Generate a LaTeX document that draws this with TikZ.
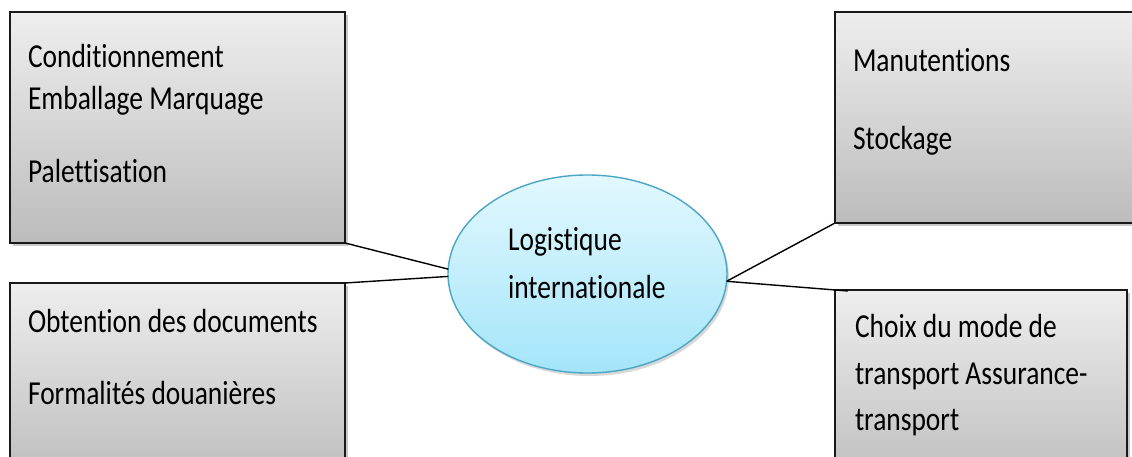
\documentclass[tikz,border=0pt]{standalone}
\usepackage{fontspec}
\setmainfont[FakeStretch=0.82,Ligatures={NoCommon,NoContextual}]{Carlito}
\usetikzlibrary{shapes.geometric,shadows}
\definecolor{boxtop}{RGB}{238,238,238}
\definecolor{boxbot}{RGB}{188,188,188}
\definecolor{elltop}{RGB}{226,248,254}
\definecolor{ellbot}{RGB}{164,229,249}
\definecolor{ellline}{RGB}{75,165,195}
\definecolor{edge}{RGB}{25,25,25}
\newcommand\txtfont{\fontsize{33.5pt}{40pt}\selectfont}
\tikzset{
  greybox/.style={rectangle, draw=edge, line width=1.4pt, inner sep=0pt, outer sep=0pt,
    anchor=north west, top color=boxtop, bottom color=boxbot,
    drop shadow={shadow xshift=2.5pt, shadow yshift=-3pt, opacity=0.35, fill=black!60}},
  centreell/.style={ellipse, draw=ellline, line width=1.4pt, inner sep=0pt, outer sep=0pt,
    minimum width=279pt, minimum height=198pt, top color=elltop, bottom color=ellbot,
    drop shadow={shadow xshift=2pt, shadow yshift=-3pt, opacity=0.3, fill=black!50}},
  txtlabel/.style={anchor=base west, inner sep=0pt, outer sep=0pt, font=\txtfont, text=black},
  link/.style={draw=black, line width=1.4pt}
}
\begin{document}
\begin{tikzpicture}[x=1pt,y=-1pt]
\useasboundingbox (0,0) rectangle (1132,457);
\clip (0,0) rectangle (1132,457);
\fill[white] (0,0) rectangle (1132,457);
% boxes
\node[greybox, minimum width=335pt, minimum height=231pt] (tl) at (10,12) {};
\node[greybox, minimum width=335pt, minimum height=200pt] (bl) at (10,283) {};
\node[greybox, minimum width=320pt, minimum height=211pt] (tr) at (835,12) {};
\node[greybox, minimum width=292pt, minimum height=200pt] (br) at (835,290) {};
% centre ellipse
\node[centreell] (ell) at (587.5,274) {};
% connectors
\coordinate (brc) at (848,291);
\draw[link] (tl.south east) -- (ell.178.4);
\draw[link] (bl.north east) -- (ell.181.2);
\draw[link] (ell.357.5) -- (tr.south west);
\draw[link] (ell.357.5) -- (brc);
% texts
\node[txtlabel] (t1) at (28,68) {Conditionnement};
\node[txtlabel] (t2) at (28,110) {Emballage Marquage};
\node[txtlabel] (t3) at (28,183) {Palettisation};
\node[txtlabel] (t4) at (853,72) {Manutentions};
\node[txtlabel] (t5) at (853,150) {Stockage};
\node[txtlabel] (t6) at (28,332) {Obtention des documents};
\node[txtlabel] (t7) at (28,404) {Formalités douanières};
\node[txtlabel] (t8) at (855,337) {Choix du mode de};
\node[txtlabel] (t9) at (855,384) {transport Assurance-};
\node[txtlabel] (t10) at (855,430) {transport};
\node[txtlabel] (t11) at (508,251) {Logistique};
\node[txtlabel] (t12) at (508,298) {internationale};
\end{tikzpicture}
\end{document}
